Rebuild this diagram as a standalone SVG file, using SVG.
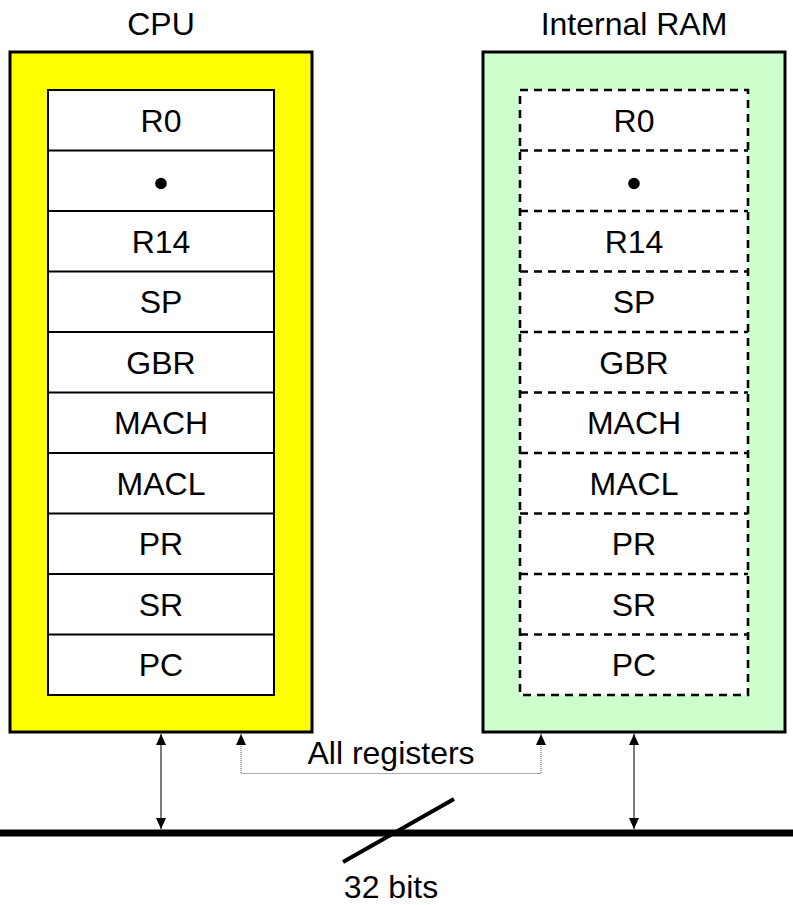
<svg xmlns="http://www.w3.org/2000/svg" width="793" height="905" viewBox="0 0 793 905">
<style>
text{font-family:"Liberation Sans",Arial,sans-serif;font-size:32px;fill:#000;text-anchor:middle}
.outer{stroke:#000;stroke-width:3}
.reg{fill:#fff;stroke:#000;stroke-width:2}
.dash{fill:#fff;stroke:#000;stroke-width:2.6;stroke-dasharray:8 6}
.sep{stroke:#000;stroke-width:2}
.sepd{stroke:#000;stroke-width:2.6;stroke-dasharray:8 6}
.arr{stroke:#333;stroke-width:1.3;fill:none}
.dot{stroke:#555;stroke-width:1;stroke-dasharray:1 1;fill:none}
</style>
<defs>
<marker id="ah" viewBox="0 0 11 10" refX="11" refY="5" markerWidth="11" markerHeight="10" markerUnits="userSpaceOnUse" orient="auto-start-reverse">
<path d="M0,0 L11,5 L0,10 z" fill="#000"/>
</marker>
</defs>
<g id="cpu">
<text x="161" y="35">CPU</text>
<rect class="outer" x="10" y="52" width="302" height="680" fill="#ffff00"/>
<rect class="reg" x="48" y="90" width="226" height="605"/>
<g class="sep">
<line x1="48" y1="150.5" x2="274" y2="150.5"/>
<line x1="48" y1="211" x2="274" y2="211"/>
<line x1="48" y1="271.5" x2="274" y2="271.5"/>
<line x1="48" y1="332" x2="274" y2="332"/>
<line x1="48" y1="392.5" x2="274" y2="392.5"/>
<line x1="48" y1="453" x2="274" y2="453"/>
<line x1="48" y1="513.5" x2="274" y2="513.5"/>
<line x1="48" y1="574" x2="274" y2="574"/>
<line x1="48" y1="634.5" x2="274" y2="634.5"/>
</g>
<text x="161" y="131.5">R0</text>
<circle cx="161" cy="183.5" r="5.8" fill="#000"/>
<text x="161" y="252.5">R14</text>
<text x="161" y="313">SP</text>
<text x="161" y="373.5">GBR</text>
<text x="161" y="434">MACH</text>
<text x="161" y="494.5">MACL</text>
<text x="161" y="555">PR</text>
<text x="161" y="615.5">SR</text>
<text x="161" y="676">PC</text>
</g>
<g id="ram">
<text x="634" y="35">Internal RAM</text>
<rect class="outer" x="483" y="52" width="302" height="680" fill="#ccffcc"/>
<rect class="dash" x="520" y="90" width="228" height="605"/>
<g class="sepd">
<line x1="520" y1="150.5" x2="748" y2="150.5"/>
<line x1="520" y1="211" x2="748" y2="211"/>
<line x1="520" y1="271.5" x2="748" y2="271.5"/>
<line x1="520" y1="332" x2="748" y2="332"/>
<line x1="520" y1="392.5" x2="748" y2="392.5"/>
<line x1="520" y1="453" x2="748" y2="453"/>
<line x1="520" y1="513.5" x2="748" y2="513.5"/>
<line x1="520" y1="574" x2="748" y2="574"/>
<line x1="520" y1="634.5" x2="748" y2="634.5"/>
</g>
<text x="634" y="131.5">R0</text>
<circle cx="634" cy="183.5" r="5.8" fill="#000"/>
<text x="634" y="252.5">R14</text>
<text x="634" y="313">SP</text>
<text x="634" y="373.5">GBR</text>
<text x="634" y="434">MACH</text>
<text x="634" y="494.5">MACL</text>
<text x="634" y="555">PR</text>
<text x="634" y="615.5">SR</text>
<text x="634" y="676">PC</text>
</g>
<g id="bus">
<line x1="0" y1="833" x2="793" y2="833" stroke="#000" stroke-width="7"/>
<line x1="343" y1="862" x2="454" y2="799" stroke="#000" stroke-width="4"/>
<text x="391" y="898">32 bits</text>
</g>
<g id="connectors">
<line class="arr" x1="161" y1="734" x2="161" y2="829" marker-start="url(#ah)" marker-end="url(#ah)"/>
<line class="arr" x1="634" y1="734" x2="634" y2="829" marker-start="url(#ah)" marker-end="url(#ah)"/>
<path class="dot" d="M241,734 V773.5 H541 V734" marker-start="url(#ah)" marker-end="url(#ah)"/>
<text x="391" y="764">All registers</text>
</g>
</svg>
